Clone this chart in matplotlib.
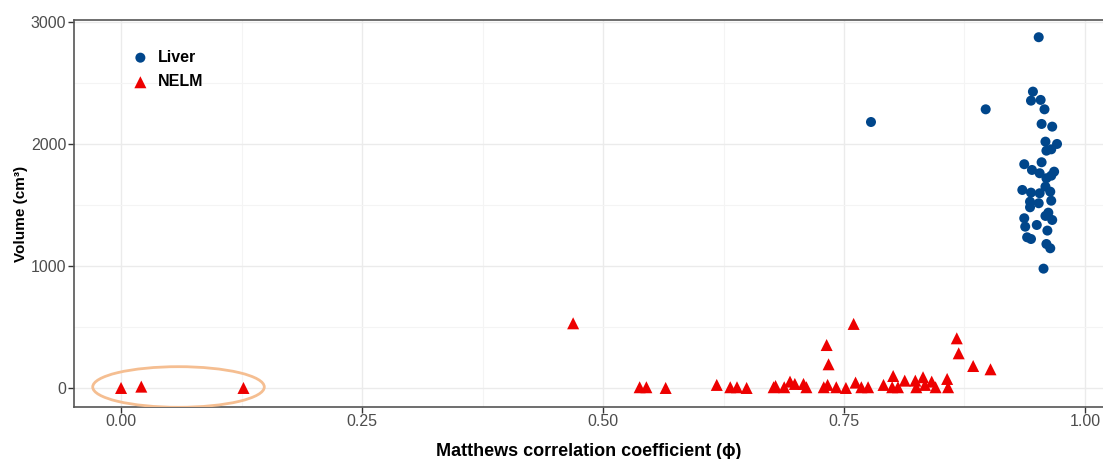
import numpy as np
import matplotlib.pyplot as plt
from matplotlib.patches import Ellipse
from matplotlib.ticker import MultipleLocator

plt.rcParams["font.family"] = ["Liberation Sans", "DejaVu Sans"]

# Liver segmentation: MCC vs liver volume
liver_mcc = [0.952, 0.946, 0.944, 0.954, 0.958, 0.897, 0.955, 0.966, 0.959, 0.971,
             0.960, 0.965, 0.937, 0.955, 0.945, 0.953, 0.968, 0.960, 0.965, 0.935,
             0.944, 0.953, 0.964, 0.959, 0.943, 0.952, 0.965, 0.943, 0.962, 0.937,
             0.966, 0.959, 0.938, 0.950, 0.961, 0.940, 0.944, 0.960, 0.964, 0.957,
             0.778]
liver_vol = [2875, 2429, 2355, 2361, 2284, 2284, 2164, 2142, 2019, 2000,
             1945, 1956, 1834, 1850, 1787, 1760, 1773, 1719, 1740, 1623,
             1601, 1596, 1609, 1650, 1527, 1514, 1535, 1481, 1437, 1391,
             1377, 1410, 1322, 1336, 1290, 1235, 1221, 1180, 1145, 978,
             2180]

# NELM segmentation: MCC vs lesion volume
nelm_mcc = [0.000, 0.021, 0.127, 0.469, 0.538, 0.545, 0.565, 0.618, 0.632, 0.639,
            0.649, 0.677, 0.679, 0.688, 0.694, 0.699, 0.708, 0.711, 0.732, 0.734,
            0.733, 0.729, 0.742, 0.752, 0.760, 0.762, 0.768, 0.775, 0.791, 0.801,
            0.800, 0.806, 0.813, 0.824, 0.832, 0.825, 0.834, 0.841, 0.845, 0.857,
            0.858, 0.867, 0.869, 0.884, 0.902]
nelm_vol = [0, 11, 0, 530, 6, 6, 0, 25, 6, 6,
            0, 6, 16, 6, 52, 33, 33, 6, 352, 194,
            25, 6, 6, 0, 525, 44, 6, 6, 25, 98,
            6, 6, 60, 60, 88, 6, 25, 52, 6, 74,
            6, 407, 284, 180, 153]

fig = plt.figure(figsize=(11.03, 4.59), dpi=100)
ax = fig.add_axes([0.0671, 0.1133, 0.9329, 0.8431])

ax.set_xlim(-0.0488, 1.0187)
ax.set_ylim(-156, 3016)

ax.xaxis.set_minor_locator(MultipleLocator(0.125))
ax.yaxis.set_major_locator(MultipleLocator(1000))
ax.yaxis.set_minor_locator(MultipleLocator(500))
ax.set_xticks([0, 0.25, 0.5, 0.75, 1.0])
ax.set_xticklabels(["0.00", "0.25", "0.50", "0.75", "1.00"])

ax.grid(which="major", color="#EBEBEB", lw=1.0)
ax.grid(which="minor", color="#F4F4F4", lw=0.8)
ax.set_axisbelow(True)

for s in ["left", "bottom", "top"]:
    ax.spines[s].set_color("#555555")
    ax.spines[s].set_linewidth(1.2)
ax.spines["right"].set_visible(False)

ax.tick_params(which="major", length=4, width=1, color="#333333", pad=1.5,
               labelsize=11.5, labelcolor="#4D4D4D")
ax.tick_params(axis="x", pad=1)
ax.tick_params(which="minor", length=0)

ax.scatter(liver_mcc, liver_vol, s=52, marker="o", color="#00468B",
           edgecolors="none", label="Liver", zorder=3)
ax.scatter(nelm_mcc, nelm_vol, s=75, marker="^", color="#ED0000",
           edgecolors="none", label="NELM", zorder=3)

ax.add_patch(Ellipse((0.0596, 8), 0.178, 333, fill=False,
                     edgecolor="#F5BE91", lw=2, zorder=4))

ax.set_xlabel("Matthews correlation coefficient (\u03d5)", fontsize=13,
              fontweight="bold", labelpad=10)
ax.set_ylabel("Volume (cm\u00b3)", fontsize=11, fontweight="bold", labelpad=2)

leg = ax.legend(loc="upper left", bbox_to_anchor=(0.035, 0.96), frameon=False,
                prop={"weight": "bold", "size": 11.5}, handletextpad=0.1,
                labelspacing=0.6)

fig.savefig("out.png", dpi=100)
